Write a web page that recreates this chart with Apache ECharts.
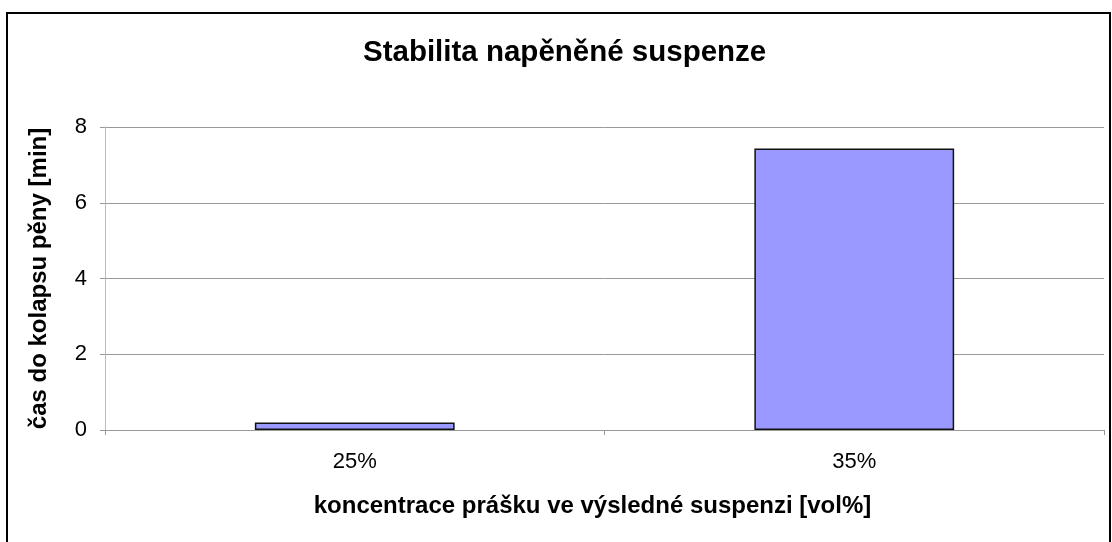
<!DOCTYPE html>
<html>
<head>
<meta charset="utf-8">
<script src="https://cdn.jsdelivr.net/npm/echarts@6/dist/echarts.min.js"></script>
<style>
  html, body { margin: 0; padding: 0; background: #fff; }
  #chart { width: 1112px; height: 542px; }
</style>
</head>
<body>
<div id="chart"></div>
<script>
// Foam stability: time to foam collapse by powder concentration
const categories = ['25%', '35%'];
const collapseMinutes = [0.2, 7.43];
const yTicks = { min: 0, max: 8, interval: 2 };

const titleText = 'Stabilita napěněné suspenze';
const xName = 'koncentrace prášku ve výsledné suspenzi [vol%]';
const yName = 'čas do kolapsu pěny [min]';

const font = '"Liberation Sans", Arial, sans-serif';
const chart = echarts.init(document.getElementById('chart'), null, { renderer: 'canvas' });

chart.setOption({
  animation: false,
  backgroundColor: '#ffffff',
  graphic: [{
    type: 'rect',
    shape: { x: 7, y: 13, width: 1103, height: 600 },
    style: { fill: 'none', stroke: '#000', lineWidth: 2 },
    silent: true,
    z: 100
  }],
  title: {
    text: titleText,
    left: 358,
    top: 33,
    textStyle: { fontFamily: font, fontSize: 29.5, fontWeight: 'bold', color: '#000' }
  },
  grid: { left: 105, right: 8, top: 127, bottom: 112, containLabel: false },
  xAxis: {
    type: 'category',
    data: categories,
    name: xName,
    nameLocation: 'middle',
    nameGap: 64,
    nameTextStyle: { fontFamily: font, fontSize: 24, fontWeight: 'bold', color: '#000', padding: [0, 24, 0, 0] },
    axisLine: { lineStyle: { color: '#999', width: 1 } },
    axisTick: { show: true, length: 5, lineStyle: { color: '#999' } },
    axisLabel: { fontFamily: font, fontSize: 22, color: '#000', margin: 21 },
    splitLine: { show: false }
  },
  yAxis: {
    type: 'value',
    min: yTicks.min,
    max: yTicks.max,
    interval: yTicks.interval,
    name: yName,
    nameLocation: 'middle',
    nameGap: 54,
    nameTextStyle: { fontFamily: font, fontSize: 24, fontWeight: 'bold', color: '#000' },
    axisLine: { show: true, lineStyle: { color: '#bbb', width: 1 } },
    axisTick: { show: true, length: 5, lineStyle: { color: '#999' } },
    axisLabel: { fontFamily: font, fontSize: 22, color: '#000', margin: 18 },
    splitLine: { show: true, lineStyle: { color: '#999', width: 1 } }
  },
  series: [{
    type: 'bar',
    data: collapseMinutes,
    barWidth: '40%',
    itemStyle: { color: '#9999ff', borderColor: '#111', borderWidth: 1.5 }
  }]
});
</script>
</body>
</html>
